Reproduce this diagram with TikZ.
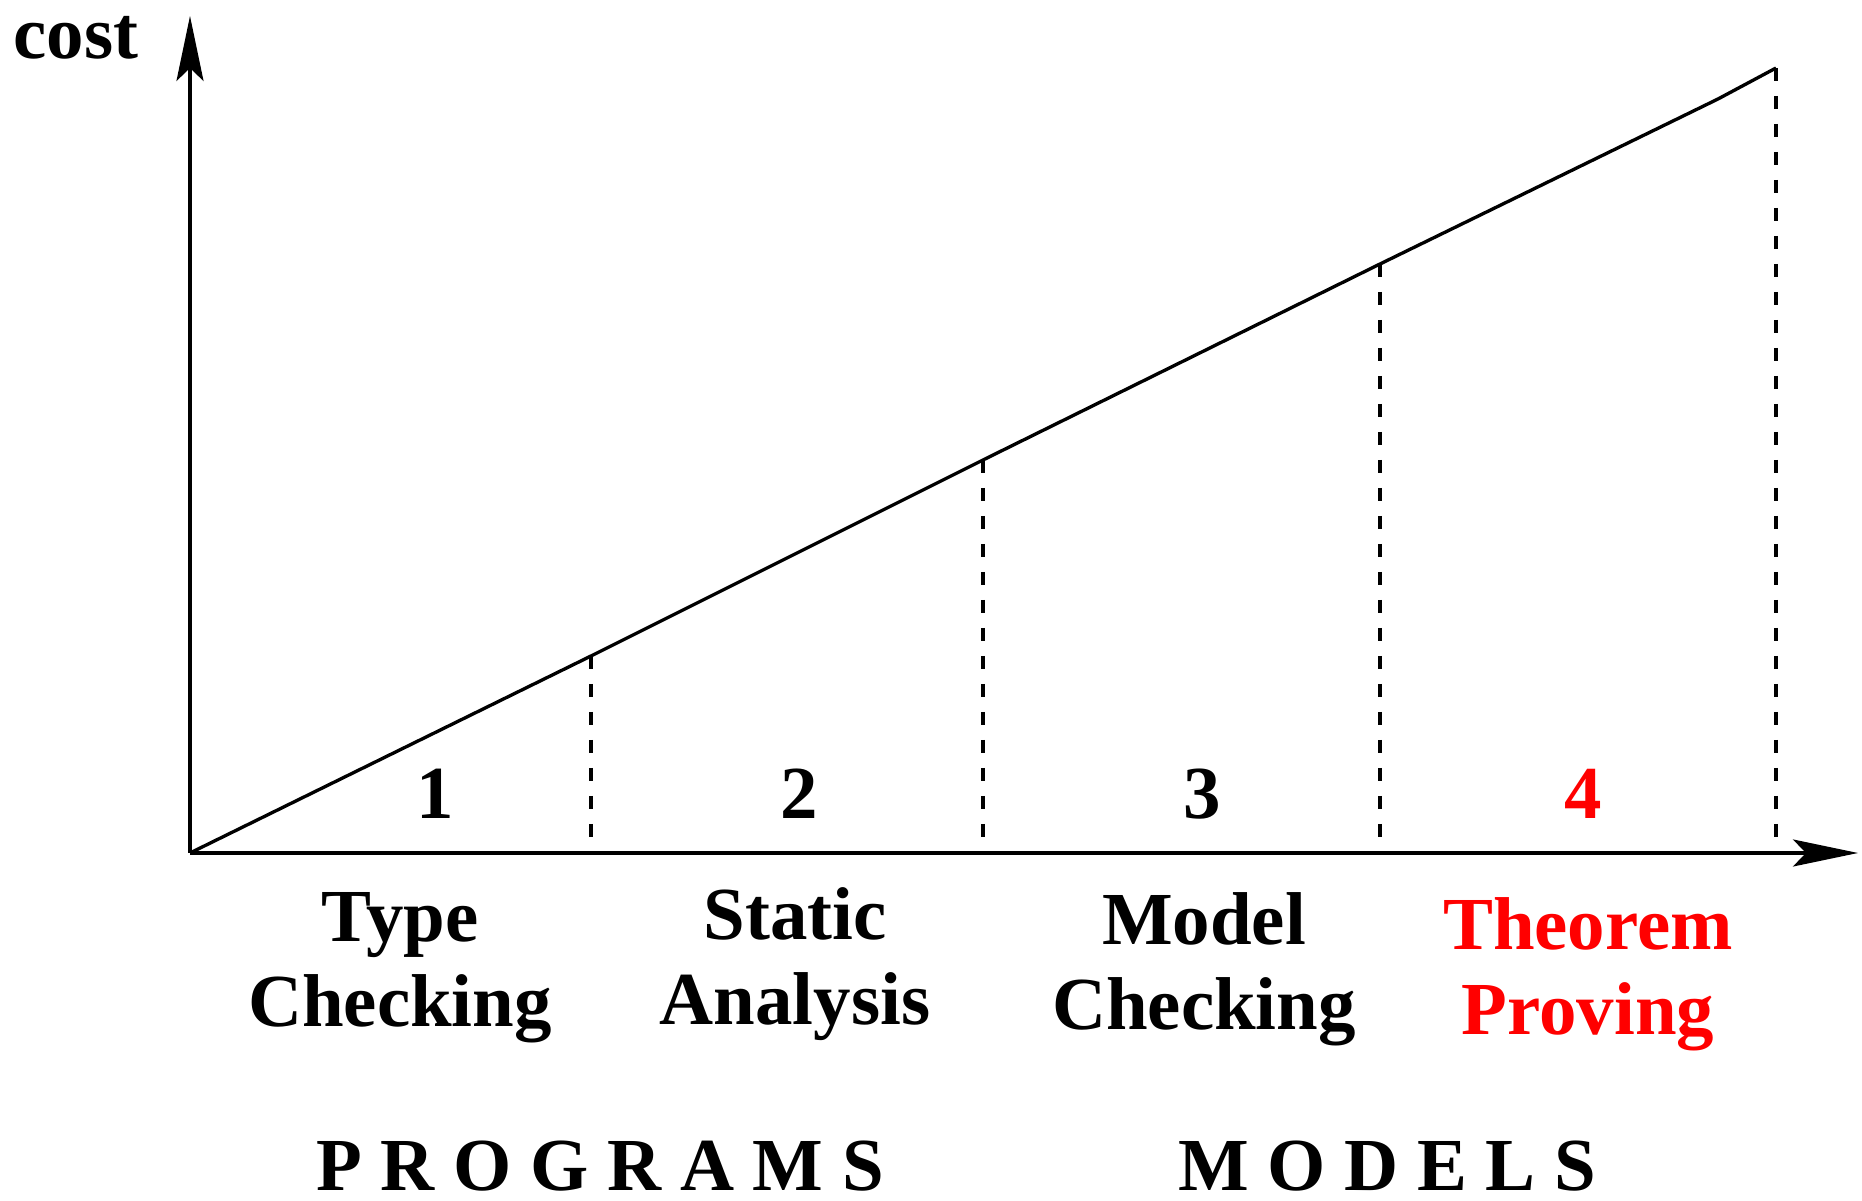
\documentclass[tikz,border=0pt]{standalone}
\usepackage{fontspec}
\setmainfont{Liberation Serif}
\usetikzlibrary{arrows.meta}
\begin{document}
\begin{tikzpicture}[
        line width=0.95pt,
        axis/.style={-{Stealth[length=6.5mm, width=2.7mm, inset=1.3mm]}},
        guide/.style={dash pattern=on 1.3mm off 1.5mm},
        lbl/.style={font=\fontsize{21.3}{24.4}\selectfont\bfseries, align=center, inner sep=0pt, anchor=base},
        hot/.style={text=red}
    ]
            \useasboundingbox (0, 0) rectangle (18.62, 12.01);

            \coordinate (O) at (1.9, 3.48);
            \coordinate (Ytip) at (1.9, 11.85);
            \coordinate (Xtip) at (18.58, 3.48);

            \coordinate (C1) at (5.91, 5.45);
            \coordinate (C2) at (9.83, 7.41);
            \coordinate (C3) at (13.80, 9.37);
            \coordinate (K) at (17.18, 11.02);
            \coordinate (C4) at (17.76, 11.33);

            \coordinate (D1) at (C1 |- O);
            \coordinate (D2) at (C2 |- O);
            \coordinate (D3) at (C3 |- O);
            \coordinate (D4) at (C4 |- O);

            \draw[axis] (O) -- (Ytip);
            \draw[axis] (O) -- (Xtip);
            \draw (O) -- (C1) -- (C2) -- (C3) -- (K) -- (C4);

            \foreach \i in {1, 2, 3, 4}
                \draw[guide] (C\i) -- (D\i);

            \node[lbl] (cost) at (0.76, 11.42) {cost};

            \node[lbl] (n1) at (4.35, 3.82) {1};
            \node[lbl] (n2) at (7.99, 3.82) {2};
            \node[lbl] (n3) at (12.02, 3.82) {3};
            \node[lbl, hot] (n4) at (15.83, 3.82) {4};

            % two-line labels sit on the baseline of their second line
            \node[lbl] (typechk) at (4.00, 1.74) {Type\\Checking};
            \node[lbl] (static) at (7.95, 1.76) {Static\\Analysis};
            \node[lbl] (modelchk) at (12.04, 1.71) {Model\\Checking};
            \node[lbl, hot] (theorem) at (15.88, 1.66) {Theorem\\Proving};

            \node[lbl, text depth=0pt] (programs) at (6.00, 0.10) {P R O G R A M S};
            \node[lbl, text depth=0pt] (models) at (13.87, 0.10) {M O D E L S};
        \end{tikzpicture}
\end{document}
